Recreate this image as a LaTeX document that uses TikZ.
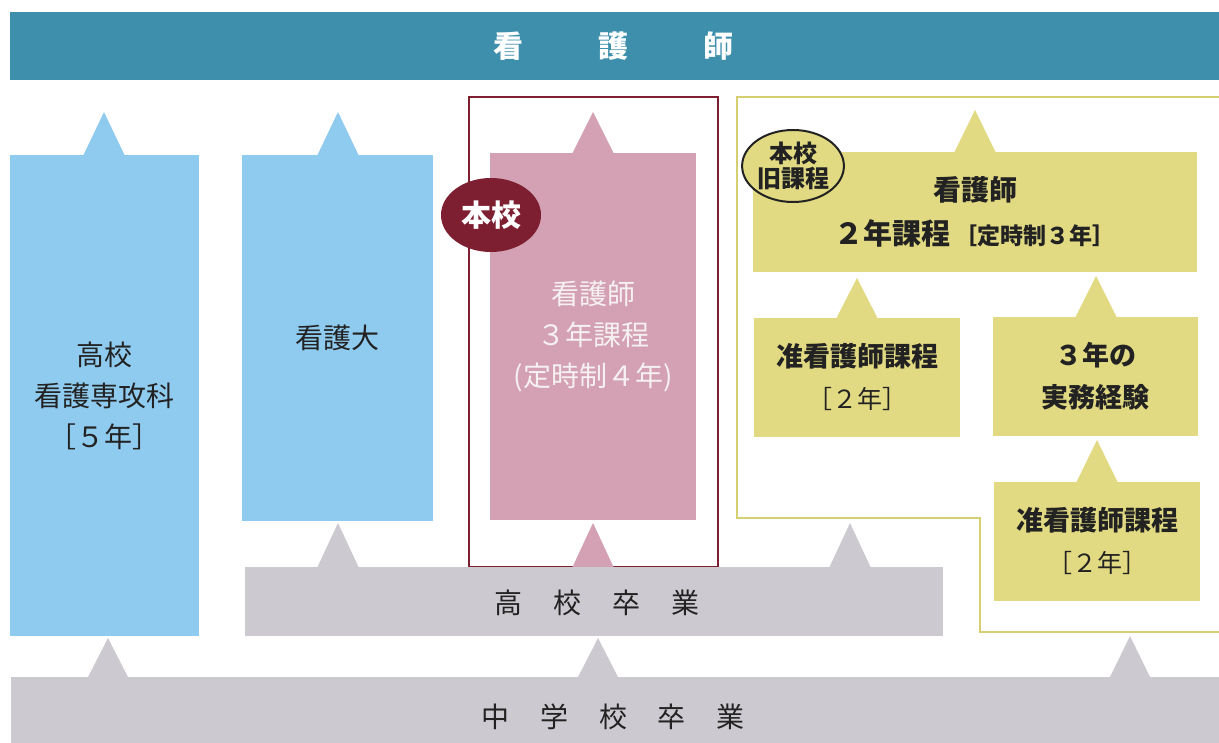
\documentclass[tikz,border=0pt]{standalone}
\usepackage{fontspec}
\setmainfont{Noto Sans CJK JP}
\usetikzlibrary{shapes.geometric}
\definecolor{cteal}{HTML}{3D8FAB}
\definecolor{cblue}{HTML}{8FCBEF}
\definecolor{cpink}{HTML}{D3A1B3}
\definecolor{cmaroon}{HTML}{7D1F30}
\definecolor{cyel}{HTML}{E1DA82}
\definecolor{cyelline}{HTML}{D6CF72}
\definecolor{cgray}{HTML}{CDC9D0}
\definecolor{ctext}{HTML}{222222}
\definecolor{cpinktext}{HTML}{F6F0F2}
\tikzset{
  boxbase/.style={inner sep=0pt, outer sep=0pt, align=center, text=ctext},
  bluebox/.style={boxbase, fill=cblue, font=\fontsize{14}{20.5}\selectfont},
  pinkbox/.style={boxbase, fill=cpink, text=cpinktext, font=\fontsize{14}{20.5}\selectfont},
  yelbox/.style={boxbase, fill=cyel, font=\bfseries\fontsize{13.5}{21}\selectfont},
  graybar/.style={boxbase, fill=cgray},
}
% triangle: color, apex x, apex y, base y
\newcommand{\uptri}[4]{\fill[#1] (#2-21,#4+1) -- (#2,#3) -- (#2+21,#4+1) -- cycle;}
\begin{document}
\begin{tikzpicture}[x=0.5pt,y=-0.5pt]
\useasboundingbox (0,0) rectangle (1219,743);
\fill[white] (0,0) rectangle (1219,743);
% top bar
\node[boxbase, fill=cteal, minimum width=605.5pt, minimum height=34pt] (top) at (615.5,46) {};
\node[text=white, font=\bfseries\fontsize{15}{18}\selectfont] (toptxt) at (613,46) {看\hspace{2.5em}護\hspace{2.5em}師};
% frames
\draw[cmaroon, line width=0.8pt] (469,97) rectangle (718,567);
\draw[cyelline, line width=0.8pt] (1222,97) -- (737,97) -- (737,518) -- (980,518) -- (980,632) -- (1222,632);
% triangles
\uptri{cblue}{104}{112}{155}
\uptri{cblue}{338}{112}{155}
\uptri{cpink}{593}{112}{153}
\uptri{cyel}{975}{110}{152}
\uptri{cyel}{857}{278}{318}
\uptri{cyel}{1096}{276}{317}
\uptri{cyel}{1097}{440}{482}
\uptri{cpink}{593}{523}{567}
\uptri{cgray}{338}{523}{567}
\uptri{cgray}{850}{523}{567}
\uptri{cgray}{108}{638}{678}
\uptri{cgray}{598}{638}{678}
\uptri{cgray}{1130}{636}{678}
% blue boxes
\node[bluebox, minimum width=94.5pt, minimum height=240.5pt] (kokango) at (104.5,395.5) {高校\\看護専攻科\\［５年］};
\node[bluebox, minimum width=95.5pt, minimum height=183pt] (kangodai) at (337.5,338) {看護大};
% pink box
\node[pinkbox, minimum width=103pt, minimum height=183.5pt] (sannen) at (593,336.5) {看護師\\３年課程\\(定時制４年)};
\node[ellipse, fill=cmaroon, text=white, inner sep=0pt, minimum width=50pt, minimum height=37pt,
      font=\bfseries\fontsize{15}{18}\selectfont] (honkou) at (491,215) {本校};
% yellow boxes
\node[yelbox, minimum width=222pt, minimum height=60pt] (ninen) at (975,212)
  {\fontsize{14}{21}\selectfont 看護師\\[1pt]\fontsize{14.5}{21}\selectfont ２年課程\,{\fontsize{11.5}{14}\selectfont［定時制３年］}};
\node[ellipse, fill=cyel, draw=ctext, line width=1pt, text=ctext, inner sep=0pt, minimum width=48pt, minimum height=36pt,
      align=center, font=\bfseries\fontsize{12}{12.5}\selectfont] (kyu) at (793,166) {本校\\旧課程};
\node[yelbox, minimum width=103pt, minimum height=59.5pt] (jun1) at (857,377.5)
  {准看護師課程\\{\mdseries\fontsize{12.5}{21}\selectfont［２年］}};
\node[yelbox, minimum width=102.5pt, minimum height=59.5pt] (jitsumu) at (1095.5,376.5)
  {３年の\\実務経験};
\node[yelbox, minimum width=103pt, minimum height=59.5pt] (jun2) at (1097,541.5)
  {准看護師課程\\{\mdseries\fontsize{12.5}{21}\selectfont［２年］}};
% gray bars
\node[graybar, minimum width=349pt, minimum height=34.5pt] (koukou) at (594,601.5) {};
\node[text=ctext, font=\fontsize{14}{18}\selectfont] (koukoutxt) at (597,603) {高\hspace{1.1em}校\hspace{1.1em}卒\hspace{1.1em}業};
\node[graybar, minimum width=605.5pt, minimum height=34pt] (chugaku) at (616.5,711) {};
\node[text=ctext, font=\fontsize{14}{18}\selectfont] (chugakutxt) at (613,717) {中\hspace{1.1em}学\hspace{1.1em}校\hspace{1.1em}卒\hspace{1.1em}業};
\end{tikzpicture}
\end{document}
